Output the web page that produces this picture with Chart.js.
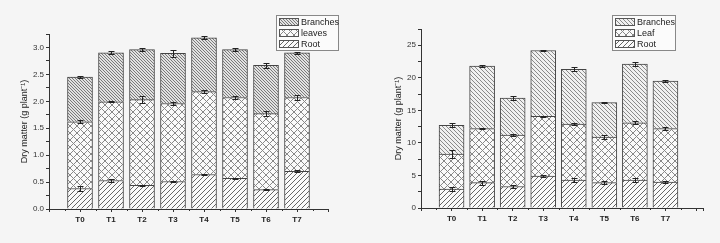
<!DOCTYPE html>
<html>
<head>
<meta charset="utf-8">
<script src="https://cdn.jsdelivr.net/npm/chart.js@4.4.1/dist/chart.umd.min.js"></script>
<style>
  html, body { margin: 0; padding: 0; background: #f5f5f5; }
  #wrap { position: relative; width: 720px; height: 243px; }
  .box { position: absolute; top: 0; width: 360px; height: 243px; }
</style>
</head>
<body>
<div id="wrap">
  <div class="box" style="left:0"><canvas id="leftChart" width="360" height="243"></canvas></div>
  <div class="box" style="left:360px"><canvas id="rightChart" width="360" height="243"></canvas></div>
</div>
<script>
// categorias (tratamentos)
const categories = ['T0', 'T1', 'T2', 'T3', 'T4', 'T5', 'T6', 'T7'];

// grafico da esquerda (0 - 3.25)
const leftRoot     = [0.38, 0.53, 0.44, 0.51, 0.64, 0.57, 0.36, 0.70];
const leftLeaves   = [1.24, 1.46, 1.59, 1.45, 1.54, 1.50, 1.41, 1.37];
const leftBranches = [0.83, 0.91, 0.93, 0.93, 1.00, 0.89, 0.90, 0.83];
const leftRootErr     = [0.04, 0.03, 0.01, 0.01, 0.01, 0.01, 0.01, 0.02];
const leftLeavesErr   = [0.03, 0.01, 0.06, 0.03, 0.03, 0.03, 0.05, 0.04];
const leftBranchesErr = [0.02, 0.03, 0.03, 0.07, 0.03, 0.03, 0.05, 0.02];

// grafico da direita (0 - 27.5)
const rightRoot     = [2.9, 3.9, 3.3, 4.9, 4.3, 3.9, 4.3, 4.0];
const rightLeaf     = [5.4, 8.3, 7.9, 9.2, 8.6, 7.0, 8.8, 8.2];
const rightBranches = [4.4, 9.6, 5.7, 10.1, 8.4, 5.3, 9.0, 7.3];
const rightRootErr     = [0.3, 0.3, 0.2, 0.2, 0.3, 0.2, 0.3, 0.1];
const rightLeafErr     = [0.6, 0.1, 0.1, 0.1, 0.1, 0.3, 0.2, 0.2];
const rightBranchesErr = [0.3, 0.2, 0.3, 0.1, 0.3, 0.1, 0.3, 0.1];

const yTitle = 'Dry matter (g plant\u207B\u00B9)';

// textura hachurada
function hatch(ctx, period, dirs, line, bg, lw) {
  const c = document.createElement('canvas');
  c.width = c.height = period;
  const g = c.getContext('2d');
  g.fillStyle = bg;
  g.fillRect(0, 0, period, period);
  g.strokeStyle = line;
  g.lineWidth = lw;
  dirs.forEach(d => {
    g.beginPath();
    for (let k = -1; k <= 1; k++) {
      if (d === '/') { g.moveTo(k * period, period); g.lineTo(k * period + period, 0); }
      else { g.moveTo(k * period, 0); g.lineTo(k * period + period, period); }
    }
    g.stroke();
  });
  return ctx.createPattern(c, 'repeat');
}

// barras de erro, no topo de cada segmento empilhado
const errorBars = {
  id: 'errorBars',
  afterDatasetsDraw(chart) {
    const { ctx, scales: { x, y } } = chart;
    ctx.save();
    ctx.strokeStyle = '#222';
    ctx.lineWidth = 1;
    chart.data.datasets.forEach((ds, di) => {
      ds.data.forEach((v, i) => {
        if (v == null) return;
        const e = ds.errors[i - 1];
        let cum = 0;
        for (let k = 0; k <= di; k++) cum += chart.data.datasets[k].data[i];
        const px = Math.round(x.getPixelForValue(i)) + 0.5;
        const y1 = Math.round(y.getPixelForValue(cum + e)) + 0.5;
        const y2 = Math.round(y.getPixelForValue(cum - e)) + 0.5;
        ctx.beginPath();
        ctx.moveTo(px, y1); ctx.lineTo(px, y2);
        ctx.moveTo(px - 3, y1); ctx.lineTo(px + 3, y1);
        ctx.moveTo(px - 3, y2); ctx.lineTo(px + 3, y2);
        ctx.stroke();
      });
    });
    ctx.restore();
  },
  afterDraw(chart, args, opts) {
    const { ctx, scales: { x } } = chart;
    ctx.save();
    ctx.strokeStyle = '#333';
    ctx.lineWidth = 1;
    // ticks menores no eixo x
    ctx.beginPath();
    for (let i = 0; i < chart.data.labels.length - 1; i++) {
      const px = Math.round(x.getPixelForValue(i + 0.5)) + 0.5;
      ctx.moveTo(px, x.top); ctx.lineTo(px, x.top + 2);
    }
    // prolonga o eixo x um pouco
    if (opts.extend) {
      const yy = Math.round(x.top) + 0.5;
      ctx.moveTo(x.right, yy); ctx.lineTo(x.right + opts.extend, yy);
      const px = Math.round(x.right + opts.extend) + 0.5;
      ctx.moveTo(px, x.top); ctx.lineTo(px, x.top + 3);
    }
    ctx.stroke();

    // legenda em caixa
    const L = opts.legend;
    ctx.fillStyle = '#fbfbfb';
    ctx.fillRect(L.x, L.y, L.w, L.h);
    ctx.strokeStyle = '#888';
    ctx.strokeRect(L.x + 0.5, L.y + 0.5, L.w, L.h);
    ctx.font = '9px Arial, "Liberation Sans", sans-serif';
    ctx.textBaseline = 'middle';
    const ds = chart.data.datasets.slice().reverse();
    ds.forEach((d, k) => {
      const cy = L.y + 7 + k * 11;
      ctx.fillStyle = d.backgroundColor;
      ctx.fillRect(L.x + 3, cy - 4, L.sw, 8);
      ctx.strokeStyle = '#555';
      ctx.strokeRect(L.x + 3.5, cy - 3.5, L.sw, 7);
      ctx.fillStyle = '#222';
      ctx.fillText(d.label, L.x + L.sw + 6, cy + 0.5);
    });
    ctx.restore();
  }
};

function makeChart(id, cfg) {
  const ctx = document.getElementById(id).getContext('2d');
  const pad = v => [null, ...v, null];
  const sets = cfg.series.map(s => ({
    label: s.label,
    data: pad(s.values),
    errors: s.errors,
    backgroundColor: s.pattern(ctx),
    borderColor: '#444',
    borderWidth: 1,
    barThickness: 25
  }));
  return new Chart(ctx, {
    type: 'bar',
    data: { labels: ['', ...categories, ''], datasets: sets },
    plugins: [errorBars],
    options: {
      responsive: false,
      animation: false,
      devicePixelRatio: 1,
      layout: { padding: cfg.padding },
      plugins: {
        legend: { display: false },
        tooltip: { enabled: false },
        errorBars: { legend: cfg.legend, extend: cfg.extend || 0 }
      },
      scales: {
        x: {
          stacked: true,
          offset: false,
          afterFit(s) { s.height = cfg.xHeight; },
          border: { color: '#333' },
          grid: { drawOnChartArea: false, offset: false, tickLength: 3, color: '#333' },
          ticks: {
            autoSkip: false, maxRotation: 0, padding: 3, color: '#222',
            font: { size: 8, weight: 'bold', family: 'Arial, "Liberation Sans", sans-serif' }
          }
        },
        y: {
          stacked: true,
          min: 0,
          max: cfg.yMax,
          afterFit(s) { s.width = cfg.yWidth; },
          border: { color: '#333' },
          grid: { drawOnChartArea: false, tickLength: 3, color: '#333' },
          ticks: {
            stepSize: cfg.yStep,
            autoSkip: false,
            padding: 2,
            color: '#333',
            font: { size: 8, family: 'Arial, "Liberation Sans", sans-serif' },
            callback: v => {
              const r = v / cfg.yMajor;
              return Math.abs(r - Math.round(r)) < 1e-6 ? v.toFixed(cfg.yDec) : '';
            }
          },
          title: {
            display: true, text: yTitle, color: '#222',
            font: { size: 9, family: 'Arial, "Liberation Sans", sans-serif' },
            padding: { top: 0, bottom: 2 }
          }
        }
      }
    }
  });
}

makeChart('leftChart', {
  series: [
    { label: 'Root', values: leftRoot, errors: leftRootErr,
      pattern: c => hatch(c, 5, ['/'], '#666', '#fafafa', 1) },
    { label: 'leaves', values: leftLeaves, errors: leftLeavesErr,
      pattern: c => hatch(c, 7, ['/', '\\'], '#888', '#fafafa', 1) },
    { label: 'Branches', values: leftBranches, errors: leftBranchesErr,
      pattern: c => hatch(c, 3, ['\\'], '#7a7a7a', '#e2e2e2', 1) }
  ],
  padding: { left: 19, right: 32, top: 34, bottom: 0 },
  yWidth: 30, xHeight: 34,
  yMax: 3.25, yStep: 0.25, yMajor: 0.5, yDec: 1,
  legend: { x: 276, y: 15, w: 62, h: 35, sw: 19 }
});

makeChart('rightChart', {
  series: [
    { label: 'Root', values: rightRoot, errors: rightRootErr,
      pattern: c => hatch(c, 5, ['/'], '#666', '#fafafa', 1) },
    { label: 'Leaf', values: rightLeaf, errors: rightLeafErr,
      pattern: c => hatch(c, 7, ['/', '\\'], '#888', '#fafafa', 1) },
    { label: 'Branches', values: rightBranches, errors: rightBranchesErr,
      pattern: c => hatch(c, 4, ['\\'], '#8a8a8a', '#f0f0f0', 1) }
  ],
  padding: { left: 33, right: 24, top: 29, bottom: 0 },
  yWidth: 28, xHeight: 35, extend: 7,
  yMax: 27.5, yStep: 2.5, yMajor: 5, yDec: 0,
  legend: { x: 252, y: 15, w: 63, h: 35, sw: 19 }
});
</script>
</body>
</html>
